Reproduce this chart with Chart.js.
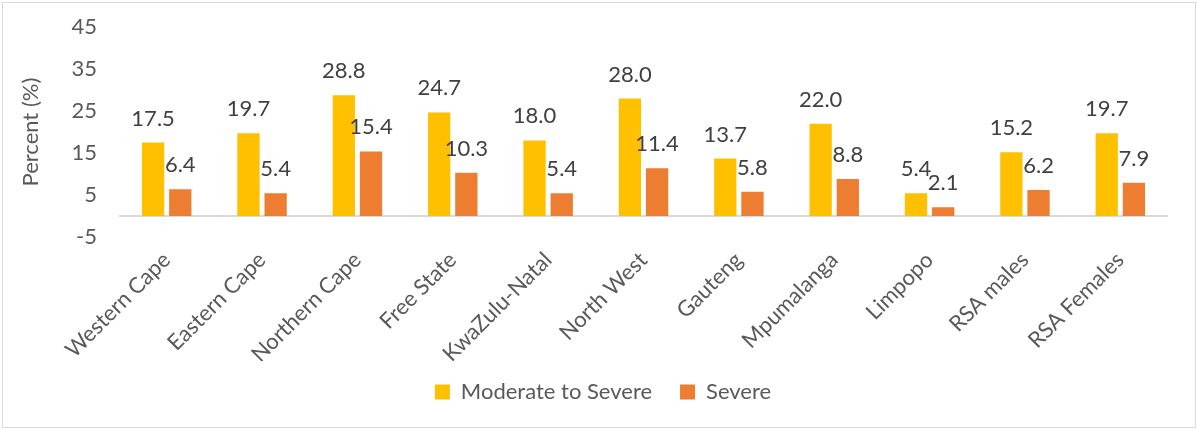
<!DOCTYPE html>
<html>
<head>
<meta charset="utf-8">
<script src="https://cdn.jsdelivr.net/npm/chart.js@4"></script>
<style>
  html, body { margin: 0; padding: 0; background: #fff; }
  #wrap { position: relative; width: 1198px; height: 430px; }
</style>
</head>
<body>
<div id="wrap"><canvas id="chart"></canvas></div>
<script>
// categories and values
const categories = ['Western Cape', 'Eastern Cape', 'Northern Cape', 'Free State', 'KwaZulu-Natal',
  'North West', 'Gauteng', 'Mpumalanga', 'Limpopo', 'RSA males', 'RSA Females'];
const moderateToSevere = [17.5, 19.7, 28.8, 24.7, 18.0, 28.0, 13.7, 22.0, 5.4, 15.2, 19.7];
const severe = [6.4, 5.4, 15.4, 10.3, 5.4, 11.4, 5.8, 8.8, 2.1, 6.2, 7.9];
const yTicks = [-5, 5, 15, 25, 35, 45];

const FONT = 'Lato, "Open Sans", sans-serif';
const TEXT = '#595959';

// numbers above the bars
const valueLabels = {
  id: 'valueLabels',
  afterDatasetsDraw(chart) {
    const ctx = chart.ctx;
    ctx.save();
    ctx.font = '22px ' + FONT;
    ctx.fillStyle = '#404040';
    ctx.textAlign = 'center';
    ctx.textBaseline = 'alphabetic';
    chart.data.datasets.forEach((ds, i) => {
      chart.getDatasetMeta(i).data.forEach((bar, j) => {
        ctx.fillText(ds.data[j].toFixed(1), bar.x, bar.y - 17);
      });
    });
    ctx.restore();
  }
};

// horizontal axis line at zero + outer frame
const zeroLine = {
  id: 'zeroLine',
  afterLayout(chart) {
    // nudge the legend right and up a bit, like the original
    chart.legend.left += 14;
    chart.legend.right += 14;
    chart.legend.top -= 8;
    chart.legend.bottom -= 8;
  },
  beforeDatasetsDraw(chart) {
    const ctx = chart.ctx;
    const area = chart.chartArea;
    const y = Math.round(chart.scales.y.getPixelForValue(0));
    ctx.save();
    ctx.strokeStyle = '#d9d9d9';
    ctx.lineWidth = 2;
    ctx.beginPath();
    ctx.moveTo(area.left, y);
    ctx.lineTo(area.right, y);
    ctx.stroke();
    ctx.restore();
  },
  beforeDraw(chart) {
    const ctx = chart.ctx;
    ctx.save();
    ctx.strokeStyle = '#d9d9d9';
    ctx.lineWidth = 1;
    ctx.strokeRect(2.5, 2.5, chart.width - 5, chart.height - 5);
    ctx.restore();
  }
};

const ctx = document.getElementById('chart').getContext('2d');
const chart = new Chart(ctx, {
  type: 'bar',
  data: {
    labels: categories,
    datasets: [
      {
        label: 'Moderate to Severe',
        data: moderateToSevere,
        backgroundColor: '#ffc000',
        categoryPercentage: 0.57,
        barPercentage: 0.82
      },
      {
        label: 'Severe',
        data: severe,
        backgroundColor: '#ed7d31',
        categoryPercentage: 0.57,
        barPercentage: 0.82
      }
    ]
  },
  options: {
    responsive: true,
    maintainAspectRatio: false,
    animation: false,
    layout: { padding: { top: 22, left: 10, right: 30, bottom: 9 } },
    plugins: {
      legend: {
        position: 'bottom',
        labels: {
          boxWidth: 15,
          boxHeight: 15,
          padding: 28,
          color: TEXT,
          font: { family: FONT, size: 22 }
        }
      },
      tooltip: { enabled: false }
    },
    scales: {
      x: {
        grid: { display: false },
        border: { display: false },
        ticks: {
          color: TEXT,
          font: { family: FONT, size: 22 },
          minRotation: 45,
          maxRotation: 45,
          padding: 2
        },
        afterFit(scale) { scale.height = 124; }
      },
      y: {
        min: -5,
        max: 45,
        grid: { display: false },
        border: { display: false },
        afterBuildTicks(scale) { scale.ticks = yTicks.map(v => ({ value: v })); },
        ticks: {
          color: TEXT,
          font: { family: FONT, size: 22 },
          padding: 14
        },
        title: {
          display: true,
          text: 'Percent (%)',
          color: TEXT,
          font: { family: FONT, size: 22 },
          padding: { top: 8, bottom: 0 }
        },
        afterFit(scale) { scale.width = 109; }
      }
    }
  },
  plugins: [valueLabels, zeroLine]
});
</script>
</body>
</html>
